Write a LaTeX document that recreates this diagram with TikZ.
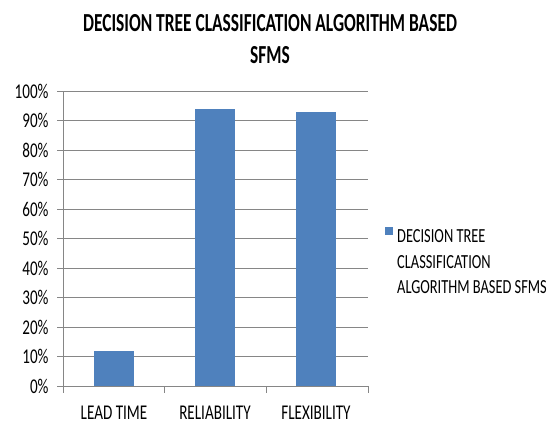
\documentclass[tikz,border=0pt]{standalone}
\usepackage{fontspec}
\setmainfont{Carlito}[FakeStretch=0.72]
\newfontfamily\titlefont{Carlito}[FakeStretch=0.67]
\usetikzlibrary{positioning}
\definecolor{barblue}{HTML}{4F81BD}
\definecolor{gridgray}{HTML}{868686}
\tikzset{bar/.style={fill=barblue,draw=none},
	grid line/.style={draw=gridgray,line width=1pt},
	lbl/.style={font=\fontsize{21}{21}\selectfont,inner sep=0pt}}

\begin{document}
\begin{tikzpicture}[x=1pt,y=-1pt]
	\useasboundingbox (0,0) rectangle (557,432);
	\node[align=center,font=\titlefont\bfseries\fontsize{26}{32}\selectfont] (title) at (270,39) {DECISION TREE CLASSIFICATION ALGORITHM BASED\\SFMS};

	% grid and y labels
	\foreach \p in {0,10,...,100}
		\draw[grid line] (57,{386-2.95*\p}) node[lbl,left=8pt] (y\p) {\p\%} -- (368,{386-2.95*\p});
	\coordinate (origin) at (63,386);
	\coordinate (top) at (63,91);
	\draw[grid line] (top) -- (origin);
	\foreach \i in {0,...,3}
		\draw[grid line] ({63+101.67*\i},386) -- ++(0,7);

	% bars
	\foreach \v/\c/\name in {12/114/lead,94/215/rel,93/316/flex}
		\fill[bar] ({\c-20},386) rectangle ({\c+20},{386-2.95*\v}) coordinate (\name-top);

	\node[lbl] (lead) at (114,413) {LEAD TIME};
	\node[lbl] (rel) at (215,413) {RELIABILITY};
	\node[lbl] (flex) at (316,413) {FLEXIBILITY};

	% legend
	\node[bar,minimum size=8pt,inner sep=0pt] (key) at (389,231) {};
	\node[lbl,align=left,font=\fontsize{20}{25.5}\selectfont,anchor=west] (keytext) at (397,262) {DECISION TREE\\CLASSIFICATION\\ALGORITHM BASED SFMS};
\end{tikzpicture}
\end{document}
